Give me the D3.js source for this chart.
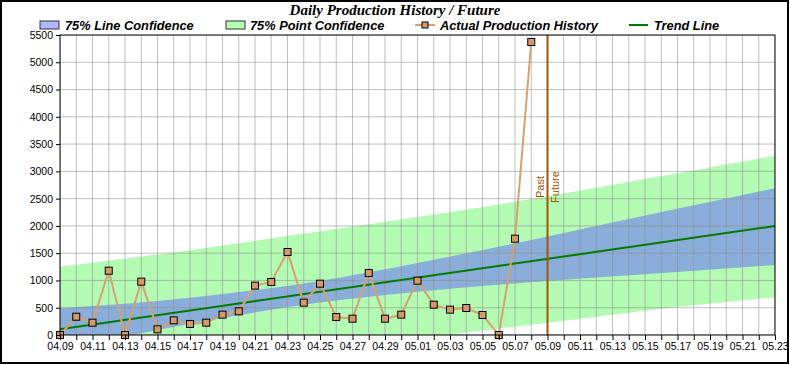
<!DOCTYPE html>
<html>
<head>
<meta charset="utf-8">
<script src="https://cdn.jsdelivr.net/npm/d3@7"></script>
<style>
  body { margin: 0; background: #fff; }
  svg { display: block; }
</style>
</head>
<body>
<div id="chart"></div>
<script>
// Data
const year = 2013;
const prodDates = ["04.09","04.10","04.11","04.12","04.13","04.14","04.15","04.16","04.17","04.18",
                   "04.19","04.20","04.21","04.22","04.23","04.24","04.25","04.26","04.27","04.28",
                   "04.29","04.30","05.01","05.02","05.03","05.04","05.05","05.06","05.07","05.08"];
const prodValues = [0, 335, 226, 1179, 0, 978, 104, 269, 202, 226,
                    373, 434, 905, 972, 1522, 593, 941, 330, 299, 1137,
                    299, 373, 996, 556, 465, 495, 367, 0, 1766, 5372];

const trendDates = ["04.09", "05.23"];
const trendValues = [104, 1998];

const bandDates = ["04.09", "04.17", "04.25", "05.01", "05.09", "05.15", "05.23"];
const lineUpper = [489, 685, 992, 1320, 1805, 2190, 2689];
const lineLower = [-280, 205, 595, 795, 990, 1112, 1283];
const pointUpper = [1253, 1555, 1900, 2165, 2540, 2860, 3288];
const pointLower = [-1050, -670, -320, -70, 225, 446, 691];

const startDate = "04.09", endDate = "05.23", splitDate = "05.09";
const yTicks = d3.range(0, 5501, 500);

const legendItems = ["75% Line Confidence", "75% Point Confidence", "Actual Production History", "Trend Line"];
const titleText = "Daily Production History / Future";

const parse = s => new Date(Date.UTC(year, +s.slice(0, 2) - 1, +s.slice(3)));
const fmt = d3.utcFormat("%m.%d");

const W = 790, H = 365;
const margin = { top: 35, right: 15, bottom: 30, left: 60 };
const width = W - margin.left - margin.right,
      height = H - margin.top - margin.bottom;

const svg = d3.select("#chart").append("svg")
    .attr("width", W)
    .attr("height", H);

// outer frame
svg.append("rect")
    .attr("x", 1).attr("y", 1)
    .attr("width", 787).attr("height", 362)
    .attr("fill", "none")
    .attr("stroke", "#000")
    .attr("stroke-width", 2);

const g = svg.append("g")
    .attr("transform", `translate(${margin.left},${margin.top})`);

const x = d3.scaleUtc()
    .domain([parse(startDate), parse(endDate)])
    .range([0, width]);
const y = d3.scaleLinear()
    .domain([0, 5500])
    .range([height, 0]);

g.append("clipPath").attr("id", "plot")
  .append("rect").attr("width", width).attr("height", height);

const plot = g.append("g").attr("clip-path", "url(#plot)");

// confidence bands
const bandData = bandDates.map((d, i) => ({
  date: parse(d), lu: lineUpper[i], ll: lineLower[i], pu: pointUpper[i], pl: pointLower[i]
}));

plot.append("path")
    .datum(bandData)
    .attr("fill", "#b3fab3")
    .attr("d", d3.area().curve(d3.curveMonotoneX)
        .x(d => x(d.date)).y0(d => y(d.pl)).y1(d => y(d.pu)));

plot.append("path")
    .datum(bandData)
    .attr("fill", "#8aaed9")
    .attr("d", d3.area().curve(d3.curveMonotoneX)
        .x(d => x(d.date)).y0(d => y(d.ll)).y1(d => y(d.lu)));

// grid lines
const days = d3.utcDay.range(parse(startDate), d3.utcDay.offset(parse(endDate), 1));
plot.append("g")
  .selectAll("line.v")
  .data(days)
  .join("line")
    .attr("x1", d => x(d)).attr("x2", d => x(d))
    .attr("y1", 0).attr("y2", height)
    .attr("stroke", "#8c8c8c")
    .attr("stroke-opacity", 0.55)
    .attr("stroke-width", 1);
plot.append("g")
  .selectAll("line.h")
  .data(yTicks)
  .join("line")
    .attr("x1", 0).attr("x2", width)
    .attr("y1", d => y(d)).attr("y2", d => y(d))
    .attr("stroke", "#8c8c8c")
    .attr("stroke-opacity", 0.55)
    .attr("stroke-width", 1);

// trend line
plot.append("path")
    .datum(trendDates.map((d, i) => ({ date: parse(d), v: trendValues[i] })))
    .attr("fill", "none")
    .attr("stroke", "#007a00")
    .attr("stroke-width", 2)
    .attr("d", d3.line().x(d => x(d.date)).y(d => y(d.v)));

// past / future divider
const sx = x(parse(splitDate));
g.append("line")
    .attr("x1", sx).attr("x2", sx)
    .attr("y1", 0).attr("y2", height)
    .attr("stroke", "#a35400")
    .attr("stroke-width", 2);
g.append("text")
    .attr("transform", `translate(${sx - 4},152) rotate(-90)`)
    .attr("text-anchor", "middle")
    .attr("font-family", "Arial, 'Liberation Sans', sans-serif")
    .attr("font-size", "11px")
    .attr("fill", "#a35400")
    .text("Past");
g.append("text")
    .attr("transform", `translate(${sx + 11},152) rotate(-90)`)
    .attr("text-anchor", "middle")
    .attr("font-family", "Arial, 'Liberation Sans', sans-serif")
    .attr("font-size", "11px")
    .attr("fill", "#a35400")
    .text("Future");

// actual production
const prod = prodDates.map((d, i) => ({ date: parse(d), v: prodValues[i] }));
g.append("path")
    .datum(prod)
    .attr("fill", "none")
    .attr("stroke", "#d6a070")
    .attr("stroke-width", 2)
    .attr("d", d3.line().x(d => x(d.date)).y(d => y(d.v)));
g.selectAll(".dot")
  .data(prod)
  .join("rect")
    .attr("class", "dot")
    .attr("x", d => x(d.date) - 3.5)
    .attr("y", d => y(d.v) - 3.5)
    .attr("width", 7).attr("height", 7)
    .attr("fill", "#d49a68")
    .attr("stroke", "#000")
    .attr("stroke-width", 1);

// plot frame
g.append("rect")
    .attr("width", width).attr("height", height)
    .attr("fill", "none")
    .attr("stroke", "#000")
    .attr("stroke-width", 1);

// axes
const xAxis = g.append("g")
    .attr("transform", `translate(0,${height})`)
    .call(d3.axisBottom(x)
        .tickValues(days)
        .tickSize(5)
        .tickSizeOuter(0)
        .tickPadding(3)
        .tickFormat((d, i) => i % 2 ? "" : fmt(d)));
const yAxis = g.append("g")
    .call(d3.axisLeft(y)
        .tickValues(yTicks)
        .tickSize(4)
        .tickSizeOuter(0)
        .tickPadding(3)
        .tickFormat(d3.format("d")));
[xAxis, yAxis].forEach(a => {
  a.select(".domain").remove();
  a.selectAll("text")
      .attr("font-family", "Arial, 'Liberation Sans', sans-serif")
      .attr("font-size", "10.5px")
      .attr("fill", "#000");
});

// title
svg.append("text")
    .attr("x", 395).attr("y", 15)
    .attr("text-anchor", "middle")
    .attr("font-family", "'Times New Roman', 'Liberation Serif', serif")
    .attr("font-weight", "bold")
    .attr("font-style", "italic")
    .attr("font-size", "15px")
    .text(titleText);

// legend
const legend = svg.append("g")
    .attr("font-family", "Arial, 'Liberation Sans', sans-serif")
    .attr("font-weight", "bold")
    .attr("font-style", "italic")
    .attr("font-size", "12.8px");
const legX = [40, 226, 415, 629];
legend.append("rect").attr("x", legX[0]).attr("y", 21).attr("width", 19).attr("height", 8)
    .attr("fill", "#b4b4ff").attr("stroke", "#333");
legend.append("rect").attr("x", legX[1]).attr("y", 21).attr("width", 19).attr("height", 8)
    .attr("fill", "#b4ffb4").attr("stroke", "#333");
legend.append("line").attr("x1", legX[2]).attr("x2", legX[2] + 20).attr("y1", 25).attr("y2", 25)
    .attr("stroke", "#d6a070").attr("stroke-width", 2);
legend.append("rect").attr("x", legX[2] + 7).attr("y", 22).attr("width", 6).attr("height", 6)
    .attr("fill", "#d49a68").attr("stroke", "#000");
legend.append("line").attr("x1", legX[3]).attr("x2", legX[3] + 19).attr("y1", 25).attr("y2", 25)
    .attr("stroke", "#007a00").attr("stroke-width", 2);
legend.selectAll("text.leg")
  .data(legendItems)
  .join("text")
    .attr("x", (d, i) => legX[i] + [25, 24, 25, 25][i])
    .attr("y", 29.5)
    .text(d => d);
</script>
</body>
</html>
